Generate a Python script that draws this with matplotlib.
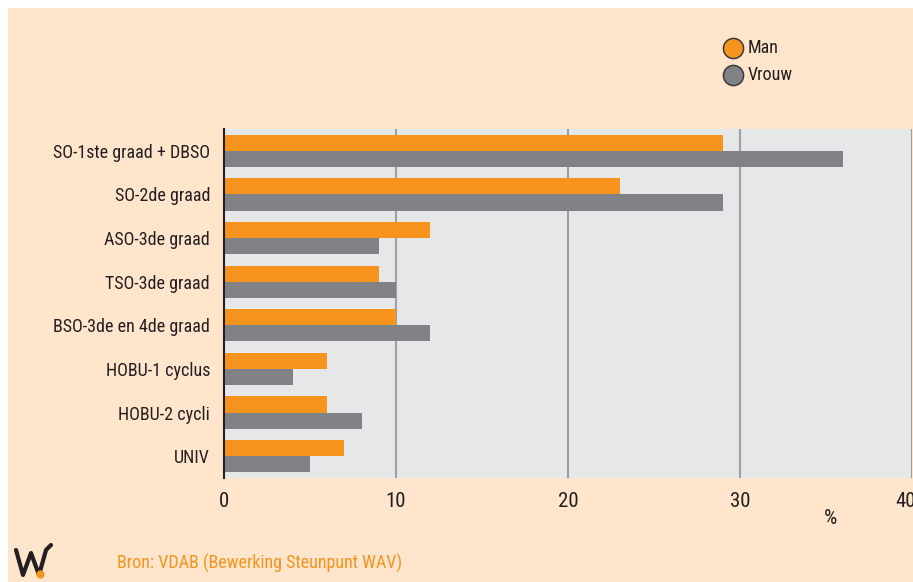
import matplotlib
matplotlib.use("Agg")
import matplotlib.pyplot as plt
import matplotlib.transforms as mtransforms
from matplotlib.patches import Rectangle
from matplotlib.lines import Line2D
import numpy as np

categories = ["SO-1ste graad + DBSO", "SO-2de graad", "ASO-3de graad", "TSO-3de graad",
              "BSO-3de en 4de graad", "HOBU-1 cyclus", "HOBU-2 cycli", "UNIV"]
man = [29, 23, 12, 9, 10, 6, 6, 7]
vrouw = [36, 29, 9, 10, 12, 4, 8, 5]
xticks = [0, 10, 20, 30, 40]
series_names = ["Man", "Vrouw"]
source = "Bron: VDAB (Bewerking Steunpunt WAV)"

ORANGE = "#F7941D"
GRAY = "#808285"
PLOTBG = "#E6E7E8"
PEACH = "#FEE5CC"
TEXT = "#231F20"

FONT = ["Roboto Condensed", "Liberation Sans Narrow", "Arial Narrow", "Liberation Sans", "DejaVu Sans"]
plt.rcParams["font.family"] = FONT

W, H = 913, 582
fig = plt.figure(figsize=(W / 100, H / 100), dpi=100, facecolor="white")
fig.patches.append(Rectangle((8 / W, 0), 1 - 8 / W, 1 - 8 / H, transform=fig.transFigure,
                             facecolor=PEACH, edgecolor="none", zorder=-10))

ax = fig.add_axes([224 / W, (H - 478) / H, (912 - 224) / W, (478 - 129) / H])
ax.set_facecolor(PLOTBG)

n = len(categories)
y = np.arange(n)
h = 0.37
ax.barh(y - h / 2, man, height=h, color=ORANGE, zorder=3)
ax.barh(y + h / 2, vrouw, height=h, color=GRAY, zorder=3)

ax.set_ylim(n - 0.5, -0.5)
ax.set_xlim(0, 40)
ax.set_xticks(xticks)
ax.set_xticklabels([str(t) for t in xticks], fontsize=15, color=TEXT)
ax.set_yticks(y)
ax.set_yticklabels(categories, fontsize=13, color=TEXT)
ax.tick_params(axis="both", length=0)
ax.tick_params(axis="y", pad=10)
ax.tick_params(axis="x", pad=10)
# last x tick label sits at the figure edge; nudge it left a little as in the original
last = ax.get_xticklabels()[-1]
last.set_transform(last.get_transform() + mtransforms.ScaledTranslation(-6 / 100, 0, fig.dpi_scale_trans))
for t in xticks[1:]:
    ax.axvline(t, color="#9D9FA2", lw=1.5, zorder=2)
for s in ["top", "right", "bottom"]:
    ax.spines[s].set_visible(False)
ax.spines["left"].set_color(TEXT)
ax.spines["left"].set_linewidth(1.5)
ax.spines["left"].set_zorder(4)

fig.text(830 / W, 1 - 518 / H, "%", fontsize=15, color=TEXT, ha="center", va="center")

# legend
for i, (name, col) in enumerate(zip(series_names, [ORANGE, GRAY])):
    yy = 1 - (48 + 27 * i) / H
    fig.add_artist(Line2D([733 / W], [yy], marker="o", markersize=14.5, markerfacecolor=col,
                          markeredgecolor="#3a3a3a", markeredgewidth=1.1, linestyle="none",
                          transform=fig.transFigure))
    fig.text(748 / W, yy, name, fontsize=13, color=TEXT, ha="left", va="center")

fig.text(117 / W, 1 - 563 / H, source, fontsize=13, color=ORANGE, ha="left", va="center")

# logo
lx = [16, 23, 31, 39, 46, 51]
ly = [550, 575, 553, 575, 550, 545]
fig.add_artist(Line2D([v / W for v in lx], [1 - v / H for v in ly], color="#231F20", lw=3,
                      solid_joinstyle="round", solid_capstyle="round", transform=fig.transFigure))
fig.add_artist(Line2D([40 / W], [1 - 574 / H], marker="o", markersize=5, color=ORANGE,
                      linestyle="none", transform=fig.transFigure))

fig.savefig("out.png", dpi=100, facecolor=fig.get_facecolor())
